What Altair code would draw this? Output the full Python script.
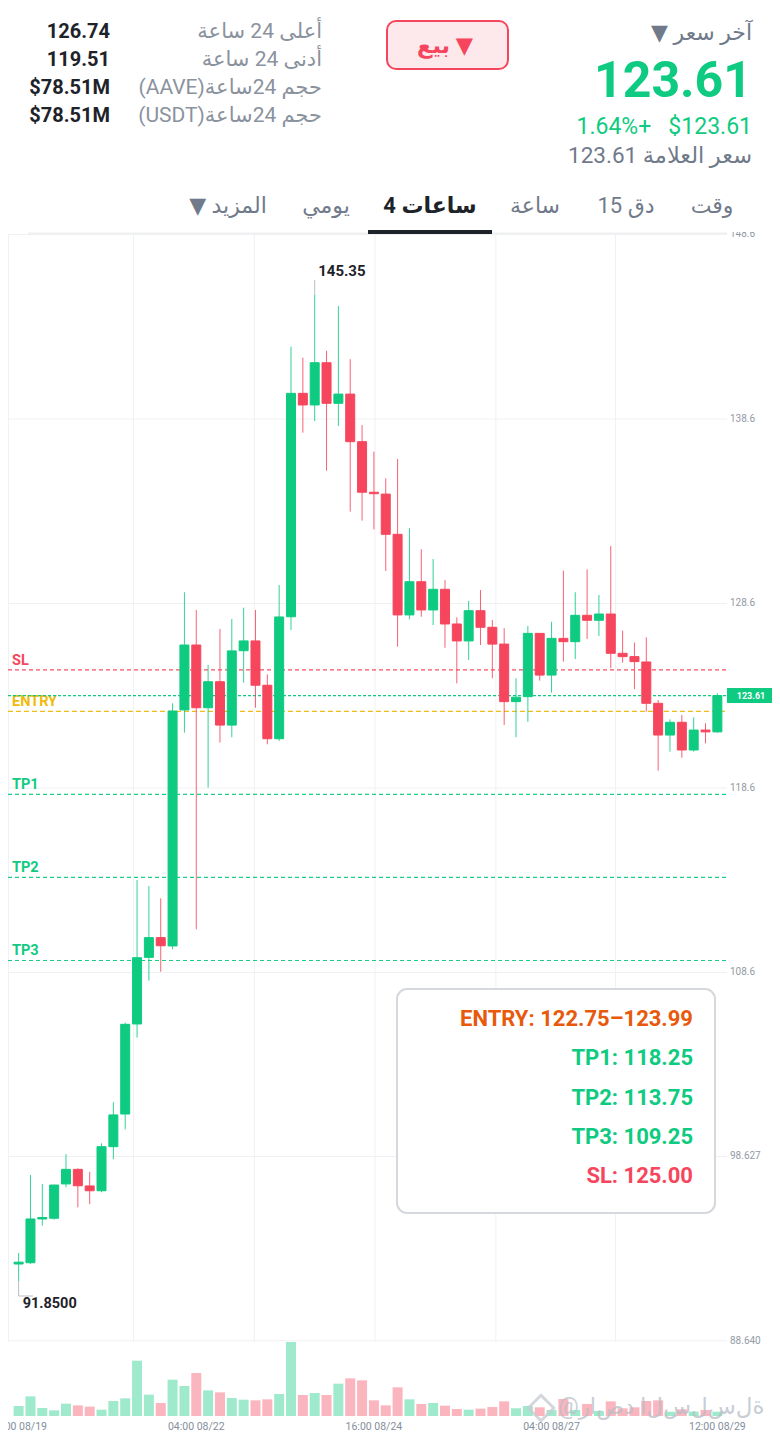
import altair as alt
import pandas as pd

# ---------------- data ----------------
opens  = [92.80, 92.87, 95.24, 95.28, 97.14, 97.93, 97.03, 96.77, 99.16, 100.93,
          105.81, 109.42, 110.49, 110.04, 122.83, 126.35, 122.95, 124.36, 122.01, 126.04,
          126.57, 124.17, 121.27, 127.88, 139.99, 139.36, 141.65, 139.45, 139.95, 137.37,
          134.63, 134.53, 132.35, 127.98, 129.78, 128.25, 129.37, 127.49, 126.57, 128.21,
          127.31, 126.40, 123.28, 123.55, 126.98, 124.72, 126.71, 126.53, 127.96, 127.69,
          128.03, 125.90, 125.72, 125.43, 123.19, 121.47, 122.16, 120.66, 121.74, 121.64]
highs  = [93.40, 97.62, 97.14, 97.10, 98.75, 97.98, 97.80, 99.34, 101.57, 105.88,
          113.61, 113.29, 112.62, 123.19, 129.21, 128.25, 125.27, 127.22, 127.76, 128.37,
          128.25, 124.76, 129.60, 142.52, 141.92, 145.35, 142.30, 144.72, 141.84, 138.27,
          136.83, 135.39, 136.43, 132.68, 131.54, 131.01, 129.87, 127.85, 128.74, 129.33,
          127.71, 127.26, 124.55, 127.38, 127.00, 127.61, 130.38, 129.21, 130.45, 129.06,
          131.72, 127.13, 126.48, 126.77, 123.37, 122.32, 122.56, 122.43, 122.11, 123.73]
lows   = [91.85, 92.80, 94.88, 95.20, 96.96, 95.87, 96.04, 96.69, 98.48, 100.10,
          105.07, 108.16, 108.64, 109.86, 121.60, 110.94, 118.62, 121.06, 121.35, 124.31,
          122.95, 120.97, 121.15, 127.16, 137.86, 138.49, 135.80, 138.22, 133.58, 133.09,
          132.62, 130.36, 126.26, 127.74, 127.88, 127.43, 126.20, 124.27, 125.54, 126.35,
          124.55, 122.01, 121.35, 122.19, 124.42, 123.77, 125.45, 125.59, 126.68, 126.84,
          125.09, 125.39, 123.95, 122.74, 119.54, 120.57, 120.24, 120.57, 121.02, 121.60]
closes = [92.90, 95.24, 95.32, 97.08, 97.93, 97.04, 96.77, 99.16, 100.88, 105.79,
          109.40, 110.49, 110.05, 122.77, 126.35, 122.95, 124.36, 122.01, 126.03, 126.57,
          124.17, 121.27, 127.87, 139.99, 139.36, 141.65, 139.45, 139.95, 137.37, 134.63,
          134.55, 132.35, 127.98, 129.78, 128.25, 129.37, 127.49, 126.57, 128.21, 127.31,
          126.40, 123.28, 123.52, 126.98, 124.72, 126.71, 126.53, 127.96, 127.69, 128.03,
          125.90, 125.72, 125.45, 123.19, 121.47, 122.16, 120.66, 121.74, 121.64, 123.61]
volumes = [30, 59, 24, 17, 37, 32, 28, 19, 45, 53, 166, 64, 39, 109, 90, 129, 77, 71, 54, 49,
           47, 50, 66, 222, 63, 69, 63, 97, 113, 107, 47, 32, 86, 50, 36, 39, 31, 21, 19, 22,
           27, 44, 23, 30, 26, 18, 51, 18, 36, 15, 44, 23, 26, 45, 47, 13, 20, 13, 18, 13]

time_labels = ["16:00 08/19", "04:00 08/22", "16:00 08/24", "04:00 08/27", "12:00 08/29"]
time_label_idx = [0, 15, 30, 45, 59]
price_ticks = [148.6, 138.6, 128.6, 118.6, 108.6, 98.627, 88.640]
price_tick_labels = ["148.6", "138.6", "128.6", "118.6", "108.6", "98.627", "88.640"]
grid_idx = [9.7, 19.9, 30.1, 40.3, 50.4]
level_names = ["SL", "ENTRY", "TP1", "TP2", "TP3"]
level_prices = [125.00, 122.75, 118.25, 113.75, 109.25]
last_price = 123.61
high_text = "145.35"
low_text = "91.8500"

stat_labels = ["أعلى 24 ساعة", "أدنى 24 ساعة", "(AAVE)حجم 24ساعة", "(USDT)حجم 24ساعة"]
stat_values = ["126.74", "119.51", "$78.51M", "$78.51M"]
tab_labels = ["وقت", "15 دق", "ساعة", "4 ساعات", "يومي", "▼ المزيد"]
header_title = "▼ آخر سعر"
header_price = "123.61"
header_change = "1.64%+\u00a0\u00a0\u00a0$123.61"
header_mark = "123.61 سعر العلامة"
sell_text = "بيع ▼"
box_lines = ["ENTRY: 122.75–123.99", "TP1: 118.25", "TP2: 113.75", "TP3: 109.25", "SL: 125.00"]
watermark = "\u202d@\u200cر\u200cا\u200cص\u200cد\u200c \u200cا\u200cل\u200cس\u200cل\u200cس\u200cل\u200cة\u202c"

# ---------------- styles ----------------
GREEN = "#0ECB81"
RED = "#F6465D"
GOLD = "#F0B90B"
ORANGE = "#E8590C"
GRAY = "#848E9C"
DARK = "#1E2329"
FONT = "Roboto, 'DejaVu Sans', sans-serif"
OX, OY = 8, 8  # page margin offset
W, H = 764, 1426

X = alt.Scale(domain=[-0.475, -0.475 + W / 12.0], nice=False, zero=False)
YP = alt.Scale(domain=[83.586, 160.876], nice=False, zero=False)
YV = alt.Scale(domain=[-54, 4224], nice=False, zero=False)
COL = alt.Scale(domain=["up", "down"], range=[GREEN, RED])


def px(v):
    return alt.value(v - OX)


def py(v):
    return alt.value(v - OY)


def label(s, x, y, size, color, weight="normal", align="left", baseline="middle", font=FONT, opacity=1.0):
    return alt.Chart(pd.DataFrame({"t": [s]})).mark_text(
        align=align, baseline=baseline, fontSize=size, color=color,
        fontWeight=weight, font=font, opacity=opacity
    ).encode(x=px(x), y=py(y), text="t:N")


one = pd.DataFrame({"k": [0]})

candles = pd.DataFrame({
    "i": list(range(len(opens))), "o": opens, "h": highs, "l": lows, "c": closes, "v": volumes,
})
candles["dir"] = ["up" if c >= o else "down" for o, c in zip(opens, closes)]

xi = alt.X("i:Q", scale=X, axis=None)

wicks = alt.Chart(candles).mark_rule(strokeWidth=1, opacity=0.85).encode(
    x=xi, y=alt.Y("l:Q", scale=YP, axis=None), y2="h:Q",
    color=alt.Color("dir:N", scale=COL, legend=None))
bodies = alt.Chart(candles).mark_bar(size=9, strokeWidth=1).encode(
    x=xi, y=alt.Y("o:Q", scale=YP, axis=None), y2="c:Q",
    color=alt.Color("dir:N", scale=COL, legend=None),
    stroke=alt.Stroke("dir:N", scale=COL, legend=None))
vols = alt.Chart(candles).mark_bar(size=10, opacity=0.4).encode(
    x=xi, y=alt.Y("v:Q", scale=YV, axis=None), y2=alt.datum(0),
    color=alt.Color("dir:N", scale=COL, legend=None))

ticks = pd.DataFrame({"p": price_ticks, "lab": price_tick_labels})
hgrid = alt.Chart(ticks).mark_rule(color="#F0F1F3", strokeWidth=1).encode(
    x=px(8), x2=px(727), y=alt.Y("p:Q", scale=YP, axis=None))
tick_text = alt.Chart(ticks).mark_text(align="left", baseline="middle", fontSize=10,
                                       color="#929AA5", font=FONT).encode(
    x=px(730), y=alt.Y("p:Q", scale=YP, axis=None), text="lab:N")
tick_mask = alt.Chart(one).mark_rect(fill="white").encode(
    x=px(727), x2=px(780), y=py(222), y2=py(232))

vg = pd.DataFrame({"g": grid_idx})
vgrid = alt.Chart(vg).mark_rule(color="#F0F1F3", strokeWidth=1).encode(
    x=alt.X("g:Q", scale=X, axis=None), y=py(235), y2=py(1342))
left_border = alt.Chart(one).mark_rule(color="#F0F1F3", strokeWidth=1).encode(
    x=px(8.5), y=py(235), y2=py(1342))

tl = pd.DataFrame({"i": time_label_idx, "t": time_labels})
time_text = alt.Chart(tl).mark_text(align="center", baseline="middle", fontSize=10.5,
                                    color=GRAY, font=FONT).encode(
    x=xi, y=py(1427), text="t:N")

level_colors = {"SL": RED, "ENTRY": GOLD, "TP1": GREEN, "TP2": GREEN, "TP3": GREEN}
level_dash = {"SL": [4, 3], "ENTRY": [5, 3], "TP1": [4, 3], "TP2": [4, 3], "TP3": [4, 3]}
level_layers = []
for n, p in zip(level_names, level_prices):
    d = pd.DataFrame({"p": [p], "n": [n]})
    level_layers.append(alt.Chart(d).mark_rule(color=level_colors[n], strokeWidth=1.2,
                                               strokeDash=level_dash[n], opacity=0.95).encode(
        x=px(8), x2=px(727), y=alt.Y("p:Q", scale=YP, axis=None)))
    level_layers.append(alt.Chart(d).mark_text(align="left", baseline="middle", dy=-9,
                                               fontSize=14.5, fontWeight="bold",
                                               color=level_colors[n], font=FONT).encode(
        x=px(12), y=alt.Y("p:Q", scale=YP, axis=None), text="n:N"))

lp = pd.DataFrame({"p": [last_price], "t": [f"{last_price:.2f}"]})
last_line = alt.Chart(lp).mark_rule(color=GREEN, strokeWidth=1.2, strokeDash=[3, 2]).encode(
    x=px(8), x2=px(727), y=alt.Y("p:Q", scale=YP, axis=None))
last_tag = alt.Chart(lp).mark_rule(color=GREEN, strokeWidth=15).encode(
    x=px(727), x2=px(778), y=alt.Y("p:Q", scale=YP, axis=None))
last_tag_text = alt.Chart(lp).mark_text(align="center", baseline="middle", fontSize=9,
                                        fontWeight="bold", color="white", font=FONT).encode(
    x=px(751), y=alt.Y("p:Q", scale=YP, axis=None), text="t:N")

hi_i = max(range(len(highs)), key=lambda k: highs[k])
lo_i = min(range(len(lows)), key=lambda k: lows[k])
hi_df = pd.DataFrame({"i": [hi_i], "p": [highs[hi_i]], "t": [high_text]})
lo_df = pd.DataFrame({"i": [lo_i], "p": [lows[lo_i]], "t": [low_text]})
hi_mark = alt.Chart(hi_df).mark_rule(color="#B7BDC6", strokeWidth=1).encode(
    x=xi, y=alt.Y("p:Q", scale=YP, axis=None), y2=py(280))
hi_txt = alt.Chart(hi_df).mark_text(align="left", baseline="middle", dx=3.5, dy=-23,
                                    fontSize=15, fontWeight="bold", color=DARK, font=FONT).encode(
    x=xi, y=alt.Y("p:Q", scale=YP, axis=None), text="t:N")
lo_mark1 = alt.Chart(lo_df).mark_rule(color="#B7BDC6", strokeWidth=1).encode(
    x=xi, y=alt.Y("p:Q", scale=YP, axis=None), y2=py(1296))
lo_mark2 = alt.Chart(lo_df).mark_rule(color="#B7BDC6", strokeWidth=1).encode(
    x=xi, x2=px(33), y=py(1296))
lo_txt = alt.Chart(lo_df).mark_text(align="left", baseline="middle", dx=4, dy=22.5,
                                    fontSize=14.5, fontWeight="bold", color=DARK, font=FONT).encode(
    x=xi, y=alt.Y("p:Q", scale=YP, axis=None), text="t:N")

# info box
box = alt.Chart(one).mark_rect(fill="white", stroke="#D5D8DC", strokeWidth=2, cornerRadius=10).encode(
    x=px(397), x2=px(715), y=py(989), y2=py(1213))
box_colors = [ORANGE, GREEN, GREEN, GREEN, RED]
box_y = [1019, 1058, 1098, 1137, 1176]
box_layers = [label(s, 693, yy, 22, c, weight="bold", align="right")
              for s, c, yy in zip(box_lines, box_colors, box_y)]

# header
sell_btn = alt.Chart(one).mark_rect(fill="#FDE8EB", stroke=RED, strokeWidth=2, cornerRadius=9).encode(
    x=px(387), x2=px(508), y=py(21), y2=py(69))
header = [
    label(header_title, 752, 33, 22, "#707A8A", align="right"),
    label(header_price, 752, 97, 50, GREEN, weight="bold", align="right", baseline="alphabetic"),
    label(header_change, 752, 134, 23, GREEN, align="right", baseline="alphabetic"),
    label(header_mark, 752, 163, 22.5, "#707A8A", align="right", baseline="alphabetic"),
    label(sell_text, 445, 46, 22.5, RED, weight="bold", align="center"),
]
stat_y = [32, 60, 88, 116]
for s, v, yy in zip(stat_labels, stat_values, stat_y):
    header.append(label(s, 322, yy, 21, "#8A929E", align="right"))
    header.append(label(v, 110, yy, 20, DARK, weight="bold", align="right"))

tab_x = [712, 626, 535, 430, 326, 228]
for s, xx in zip(tab_labels, tab_x):
    bold = s == "4 ساعات"
    header.append(label(s, xx, 206, 22, DARK if bold else "#707A8A",
                        weight="bold" if bold else "normal", align="center"))
tab_line = alt.Chart(one).mark_rule(color="#EEF0F2", strokeWidth=2).encode(
    x=px(28), x2=px(727), y=py(233.5))
tab_under = alt.Chart(one).mark_rule(color=DARK, strokeWidth=4).encode(
    x=px(368), x2=px(492), y=py(232))

wm_logo = alt.Chart(one).mark_point(shape="diamond", size=650, filled=False, color="#C9CDD3",
                                    strokeWidth=3, opacity=0.8).encode(x=px(541), y=py(1408))
wm_text = label(watermark, 558, 1407, 23, "#B7BDC6", opacity=0.75)

chart = alt.layer(
    hgrid, vgrid, left_border, tick_text, tick_mask, tab_line, tab_under,
    vols, time_text,
    *level_layers, last_line,
    wicks, bodies,
    hi_mark, hi_txt, lo_mark1, lo_mark2, lo_txt,
    last_tag, last_tag_text,
    box, *box_layers,
    sell_btn, *header,
    wm_logo, wm_text,
).resolve_scale(y="independent").properties(
    width=W, height=H, padding=0,
    autosize=alt.AutoSizeParams(type="none"),
    background="white",
).configure_view(strokeWidth=0)

chart.save("out.html", embed_options={"renderer": "svg", "actions": False})
